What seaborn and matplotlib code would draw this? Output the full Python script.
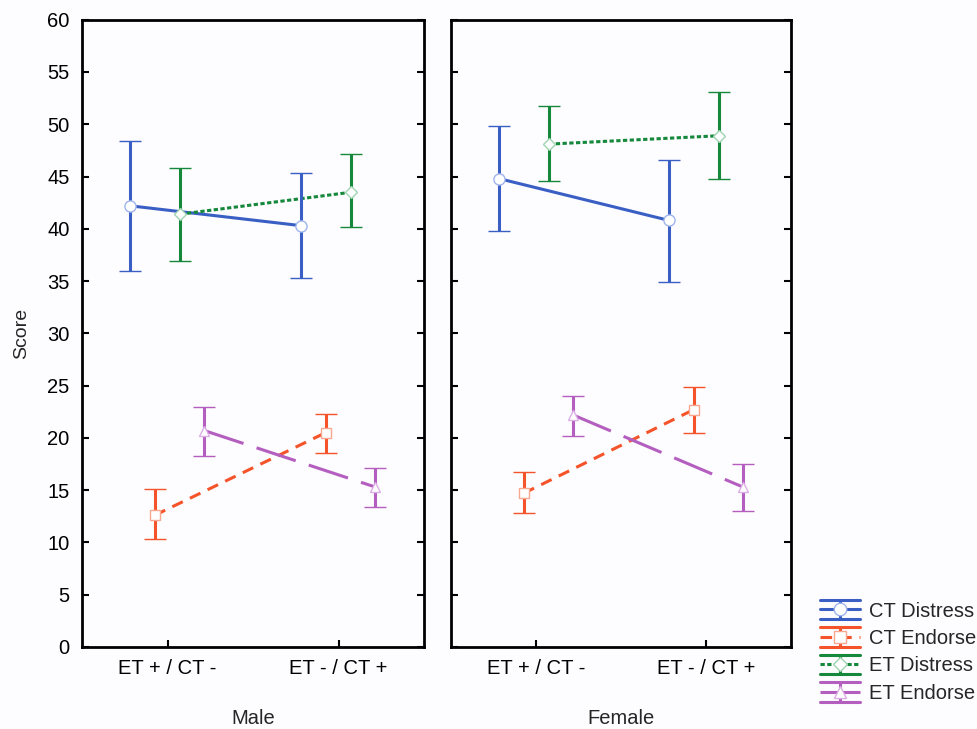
import matplotlib.pyplot as plt
import seaborn as sns
import numpy as np
import pandas as pd
from matplotlib.legend_handler import HandlerBase
from matplotlib.lines import Line2D

# groups and conditions
groups = ['Male', 'Female']
conditions = ['ET + / CT -', 'ET - / CT +']
series = ['CT Distress', 'CT Endorse', 'ET Distress', 'ET Endorse']

# means, lower and upper CI ends per group, per condition
male_mean = {'CT Distress': [42.2, 40.3], 'CT Endorse': [12.6, 20.5],
             'ET Distress': [41.4, 43.5], 'ET Endorse': [20.7, 15.3]}
male_low = {'CT Distress': [36.0, 35.3], 'CT Endorse': [10.3, 18.6],
            'ET Distress': [36.9, 40.2], 'ET Endorse': [18.3, 13.4]}
male_high = {'CT Distress': [48.4, 45.3], 'CT Endorse': [15.1, 22.3],
             'ET Distress': [45.8, 47.2], 'ET Endorse': [23.0, 17.1]}

female_mean = {'CT Distress': [44.8, 40.8], 'CT Endorse': [14.7, 22.7],
               'ET Distress': [48.1, 48.9], 'ET Endorse': [22.2, 15.3]}
female_low = {'CT Distress': [39.8, 34.9], 'CT Endorse': [12.8, 20.5],
              'ET Distress': [44.6, 44.8], 'ET Endorse': [20.2, 13.0]}
female_high = {'CT Distress': [49.8, 46.6], 'CT Endorse': [16.7, 24.9],
               'ET Distress': [51.7, 53.1], 'ET Endorse': [24.0, 17.5]}

# styles
colors = {'CT Distress': '#3a5fc4', 'CT Endorse': '#f5532a',
          'ET Distress': '#16883c', 'ET Endorse': '#b45fc0'}
edge = {'CT Distress': '#9fb5ee', 'CT Endorse': '#f8a890',
        'ET Distress': '#9fd4b0', 'ET Endorse': '#dcb0e6'}
markers = {'CT Distress': 'o', 'CT Endorse': 's', 'ET Distress': 'D', 'ET Endorse': '^'}
msize = {'CT Distress': 8, 'CT Endorse': 7.5, 'ET Distress': 6.5, 'ET Endorse': 7.5}
dashes = {'CT Distress': '', 'CT Endorse': (3.8, 2.6), 'ET Distress': (1.4, 0.8),
          'ET Endorse': (13.5, 4.5)}
offset = {'CT Distress': -0.22, 'CT Endorse': -0.075, 'ET Distress': 0.075, 'ET Endorse': 0.215}
LW = 2.2

sns.set_theme(style='white')
plt.rcParams['font.family'] = ['Liberation Sans', 'DejaVu Sans']

fig = plt.figure(figsize=(9.77, 7.29), dpi=100)
fig.patch.set_facecolor('#fdfcfe')
ax_m = fig.add_axes([0.084, 0.1125, 0.35, 0.8605])
ax_f = fig.add_axes([0.462, 0.1125, 0.348, 0.8605])

data = {'Male': (male_mean, male_low, male_high),
        'Female': (female_mean, female_low, female_high)}

for ax, g in zip([ax_m, ax_f], groups):
    mean, low, high = data[g]
    rows = []
    for s in series:
        for i, c in enumerate(conditions):
            rows.append({'series': s, 'x': i + offset[s], 'score': mean[s][i]})
    df = pd.DataFrame(rows)
    sns.lineplot(data=df, x='x', y='score', hue='series', style='series',
                 palette=colors, dashes=dashes, markers=False, lw=LW,
                 legend=False, ax=ax, sort=False)
    for s in series:
        xs = np.arange(len(conditions)) + offset[s]
        m = np.array(mean[s])
        yerr = [m - np.array(low[s]), np.array(high[s]) - m]
        ax.errorbar(xs, m, yerr=yerr, fmt=markers[s], color=colors[s],
                    ms=msize[s], mfc='white', mec=edge[s], mew=1.0,
                    ecolor=colors[s], elinewidth=LW, capsize=8, capthick=LW,
                    zorder=3)

    ax.set_xlim(-0.5, 1.5)
    ax.set_ylim(0, 60)
    ax.set_xticks(range(len(conditions)))
    ax.set_xticklabels(conditions, fontsize=14.5)
    ax.set_yticks(range(0, 61, 5))
    ax.set_xlabel(g, fontsize=14.5, labelpad=22)
    ax.set_facecolor('#fdfcfe')
    ax.tick_params(direction='in', length=5, width=1.5, left=True, right=True,
                   bottom=True, colors='black', labelsize=14.5, pad=9)
    for sp in ax.spines.values():
        sp.set_color('black')
        sp.set_linewidth(2)

ax_m.set_ylabel('Score', fontsize=14, labelpad=12)
ax_f.set_yticklabels([])
ax_f.set_ylabel('')


class ErrHandler(HandlerBase):
    def __init__(self, s):
        super().__init__()
        self.s = s

    def create_artists(self, legend, orig_handle, xdescent, ydescent,
                       width, height, fontsize, trans):
        s = self.s
        x0, x1 = -xdescent, -xdescent + width
        yc = height / 2 - ydescent
        cap = 7.0
        xm = (x0 + x1) / 2
        ls = (0, dashes[s]) if dashes[s] else '-'
        arts = [
            Line2D([x0, x1], [yc + cap] * 2, color=colors[s], lw=LW),
            Line2D([x0, x1], [yc - cap] * 2, color=colors[s], lw=LW),
            Line2D([xm, xm], [yc - cap, yc + cap], color=colors[s], lw=LW),
            Line2D([x0, x1], [yc, yc], color=colors[s], lw=LW, linestyle=ls),
            Line2D([xm], [yc], marker=markers[s], ms=msize[s] + 1, mfc='white',
                   mec=edge[s], mew=1.0, linestyle='none'),
        ]
        for a in arts:
            a.set_transform(trans)
        return arts


proxies = [Line2D([], [], color=colors[s]) for s in series]
hmap = {p: ErrHandler(s) for p, s in zip(proxies, series)}
fig.legend(proxies, series, handler_map=hmap, loc='lower left',
           bbox_to_anchor=(0.829, 0.022), frameon=False, fontsize=14.5,
           handlelength=2.0, handletextpad=0.45, labelspacing=0.42, borderpad=0)

fig.savefig('out.png', dpi=100, facecolor=fig.get_facecolor())
